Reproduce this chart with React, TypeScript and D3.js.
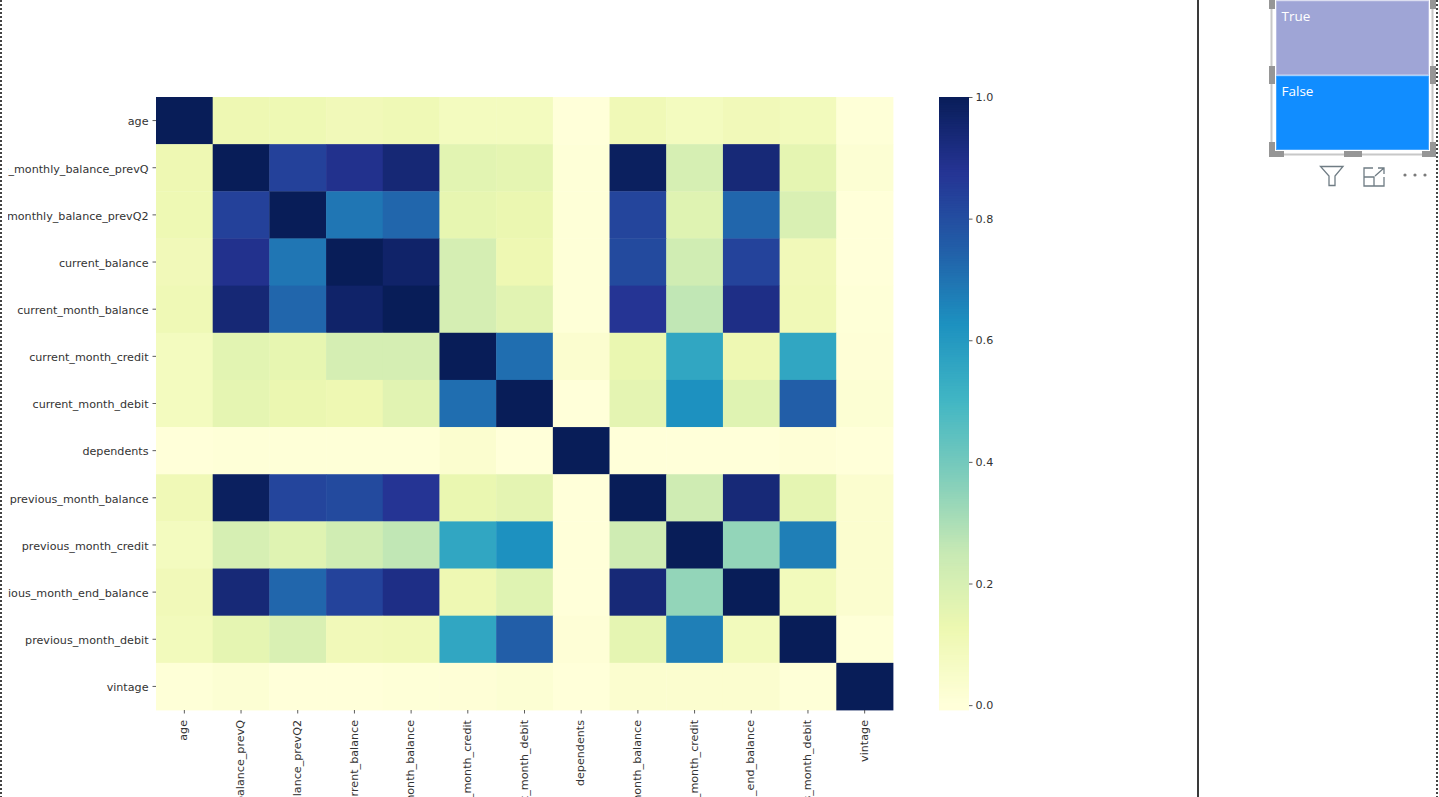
import React, { useEffect, useRef } from 'react';
import * as d3 from 'd3';

const labels = [
  'age',
  'average_monthly_balance_prevQ',
  'average_monthly_balance_prevQ2',
  'current_balance',
  'current_month_balance',
  'current_month_credit',
  'current_month_debit',
  'dependents',
  'previous_month_balance',
  'previous_month_credit',
  'previous_month_end_balance',
  'previous_month_debit',
  'vintage',
];

const corr = [
  [1, 0.12, 0.115, 0.1, 0.11, 0.08, 0.08, 0.0, 0.105, 0.08, 0.1, 0.09, 0.005],
  [0.12, 1, 0.835, 0.89, 0.94, 0.16, 0.15, 0.005, 0.985, 0.2, 0.935, 0.15, 0.02],
  [0.115, 0.835, 1, 0.69, 0.73, 0.145, 0.13, 0.005, 0.825, 0.17, 0.73, 0.19, 0.0],
  [0.1, 0.89, 0.69, 1, 0.965, 0.205, 0.12, 0.005, 0.81, 0.22, 0.83, 0.1, 0.0],
  [0.11, 0.94, 0.73, 0.965, 1, 0.205, 0.165, 0.005, 0.875, 0.26, 0.905, 0.105, 0.005],
  [0.08, 0.16, 0.145, 0.205, 0.205, 1, 0.71, 0.03, 0.135, 0.555, 0.12, 0.555, 0.01],
  [0.08, 0.15, 0.13, 0.12, 0.165, 0.71, 1, 0.0, 0.155, 0.625, 0.17, 0.75, 0.02],
  [0.0, 0.005, 0.005, 0.005, 0.005, 0.03, 0.0, 1, 0.0, 0.0, 0.0, 0.01, 0.0],
  [0.105, 0.985, 0.825, 0.81, 0.875, 0.135, 0.155, 0.0, 1, 0.225, 0.935, 0.15, 0.03],
  [0.08, 0.2, 0.17, 0.22, 0.26, 0.555, 0.625, 0.0, 0.225, 1, 0.34, 0.67, 0.03],
  [0.1, 0.935, 0.73, 0.83, 0.905, 0.12, 0.17, 0.0, 0.935, 0.34, 1, 0.09, 0.03],
  [0.09, 0.15, 0.19, 0.1, 0.105, 0.555, 0.75, 0.01, 0.15, 0.67, 0.09, 1, 0.005],
  [0.005, 0.02, 0.0, 0.0, 0.005, 0.01, 0.02, 0.0, 0.03, 0.03, 0.03, 0.005, 1],
];

const cbTicks = [0, 0.2, 0.4, 0.6, 0.8, 1];
const ylgnbu = ['#ffffd9', '#edf8b1', '#c7e9b4', '#7fcdbb', '#41b6c4', '#1d91c0', '#225ea8', '#253494', '#081d58'];
const slicerValues = ['True', 'False'];
const slicerColors = ['#9fa5d6', '#118dff'];
const slicerEdges = ['#b9bde2', '#47a6ff'];

const FONT = '"DejaVu Sans", sans-serif';
const LABEL_SIZE = 11.15;

const App: React.FC = () => {
  const ref = useRef<SVGSVGElement | null>(null);

  useEffect(() => {
    const svg = d3.select(ref.current);
    svg.selectAll('*').remove();

    const idx = labels.map((_, i) => i);
    const x = d3.scaleBand<number>().domain(idx).range([156, 893]);
    const y = d3.scaleBand<number>().domain(idx).range([97, 710]);
    const vmin = -0.008;
    const color = d3.scaleLinear<string>()
      .domain(ylgnbu.map((_, i) => i / 8))
      .range(ylgnbu)
      .interpolate(d3.interpolateRgb);

    svg.append('defs').append('clipPath').attr('id', 'plotclip')
      .append('rect').attr('x', 8).attr('y', 0).attr('width', 1180).attr('height', 797);

    // heatmap
    const g = svg.append('g').attr('clip-path', 'url(#plotclip)');
    corr.forEach((row, r) => {
      g.append('g').selectAll('rect').data(row).join('rect')
        .attr('x', (_, c) => x(c)!)
        .attr('y', y(r)!)
        .attr('width', x.bandwidth() + 0.4)
        .attr('height', y.bandwidth() + 0.4)
        .attr('fill', d => color(d));
    });

    const yAxis = d3.axisLeft(y).tickFormat(i => labels[i as number]).tickSize(3.5).tickPadding(4);
    const yg = g.append('g').attr('transform', 'translate(156,0)').call(yAxis);
    yg.selectAll('text').attr('y', 1.2);
    const xAxis = d3.axisBottom(x).tickFormat(i => labels[i as number]).tickSize(3.5).tickPadding(4);
    const xg = g.append('g').attr('transform', 'translate(0,710)').call(xAxis);
    xg.selectAll('text')
      .attr('transform', 'rotate(-90)')
      .attr('text-anchor', 'end')
      .attr('dy', '0.35em')
      .attr('x', -10)
      .attr('y', -0.8);

    [yg, xg].forEach(a => {
      a.select('.domain').remove();
      a.selectAll('line').attr('stroke', '#333').attr('stroke-width', 0.8);
      a.selectAll('text').attr('font-family', FONT).attr('font-size', LABEL_SIZE).attr('fill', '#333');
    });

    // colorbar
    const cb = d3.scaleLinear().domain([vmin, 1]).range([710, 97]);
    const steps = d3.range(0, 256).map(i => vmin + ((1 - vmin) * i) / 255);
    svg.append('g').selectAll('rect').data(steps).join('rect')
      .attr('x', 939)
      .attr('y', d => cb(d) - 3)
      .attr('width', 30)
      .attr('height', 3.4)
      .attr('fill', d => color(Math.max(d, 0)));
    // keep the bar inside its top edge
    svg.append('rect').attr('x', 939).attr('y', 90).attr('width', 30).attr('height', 7).attr('fill', '#fff');

    const cbAxis = d3.axisRight(cb).tickValues(cbTicks).tickFormat(d3.format('.1f')).tickSize(3.5).tickPadding(3);
    const cg = svg.append('g').attr('transform', 'translate(969,0)').call(cbAxis);
    cg.select('.domain').remove();
    cg.selectAll('line').attr('stroke', '#333').attr('stroke-width', 0.8);
    cg.selectAll('text').attr('font-family', FONT).attr('font-size', LABEL_SIZE).attr('fill', '#333');

    // report canvas borders
    svg.append('line').attr('x1', 1198).attr('x2', 1198).attr('y1', 0).attr('y2', 797)
      .attr('stroke', '#3a3a3a').attr('stroke-width', 2);
    [1, 1437].forEach(px => {
      svg.append('line').attr('x1', px).attr('x2', px).attr('y1', 0).attr('y2', 797)
        .attr('stroke', '#444').attr('stroke-width', 2).attr('stroke-dasharray', '2 2');
    });

    // slicer tiles
    const sy = d3.scaleBand<string>().domain(slicerValues).range([0, 150]);
    const slicer = svg.append('g');
    slicer.append('path')
      .attr('d', 'M1271.5,0V154.5H1432.5V0')
      .attr('fill', 'none').attr('stroke', '#c8c8c8').attr('stroke-width', 2);
    slicer.selectAll('rect.tile').data(slicerValues).join('rect')
      .attr('class', 'tile')
      .attr('x', 1276.5)
      .attr('y', d => sy(d)! + 1)
      .attr('width', 152)
      .attr('height', sy.bandwidth() - 1.5)
      .attr('fill', (_, i) => slicerColors[i])
      .attr('stroke', (_, i) => slicerEdges[i]);
    slicer.selectAll('text').data(slicerValues).join('text')
      .attr('x', 1281.5)
      .attr('y', d => sy(d)! + 20.5)
      .attr('font-family', '"Open Sans", sans-serif')
      .attr('font-size', 13.5)
      .attr('fill', '#fff')
      .text(d => d);

    // selection handles
    const handles = [
      [1269, 0, 6, 9], [1269, 66, 6, 18], [1269, 142, 6, 14], [1269, 151, 15, 6],
      [1344, 151, 18, 6], [1422, 151, 14, 6], [1430, 142, 6, 10], [1430, 66, 6, 18], [1430, 0, 6, 9],
    ];
    svg.append('g').selectAll('rect').data(handles).join('rect')
      .attr('x', d => d[0]).attr('y', d => d[1])
      .attr('width', d => d[2]).attr('height', d => d[3])
      .attr('fill', '#969696');

    // visual header icons
    const icons = svg.append('g').attr('fill', 'none').attr('stroke', '#6f7c84').attr('stroke-width', 1.3);
    icons.append('path').attr('d', 'M1320.5,166.5H1343L1335,176V185.5H1329V176Z');
    icons.append('path').attr('d', 'M1373,168H1364V186H1384V177M1364,177H1374V186M1375,176L1384,168M1378,168H1384V174');
    svg.append('g').selectAll('circle').data([1405, 1415, 1425]).join('circle')
      .attr('cx', d => d).attr('cy', 175).attr('r', 1.6).attr('fill', '#7a7a7a');
  }, []);

  return (
    <svg
      ref={ref}
      width={1439}
      height={797}
      style={{ position: 'absolute', left: 0, top: 0, background: '#fff', display: 'block' }}
    />
  );
};

export default App;
